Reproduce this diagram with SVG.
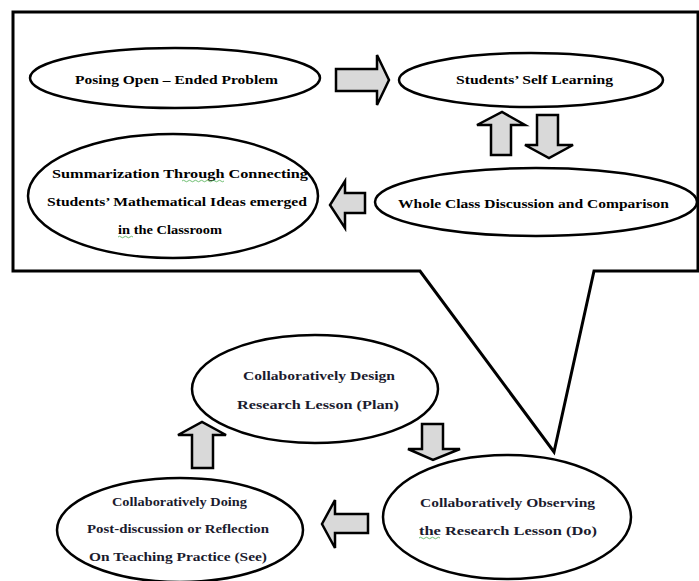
<svg xmlns="http://www.w3.org/2000/svg" width="699" height="581" viewBox="0 0 699 581">
<style>
.node{fill:#fff;stroke:#000;stroke-width:2.5}
.arr{fill:#d9d9d9;stroke:#000;stroke-width:2.5;stroke-linejoin:miter}
.t{font-family:"Liberation Serif","Times New Roman",serif;font-weight:bold;font-size:13px;fill:#000}
.tb{font-family:"Liberation Serif","Times New Roman",serif;font-weight:bold;font-size:13px;fill:#1b1b2e}
.wavy{fill:none;stroke:#4caf50;stroke-width:0.8}
</style>
<rect width="699" height="581" fill="#fff"/>
<g id="callout">
<path d="M13,12 H698 V271 H594 L554,452 L420,271 H13 Z" fill="#fff" stroke="#000" stroke-width="3" stroke-linejoin="miter"/>
</g>
<g id="connectors">
<path class="arr" d="M336,69 H377 V55 L389,80 L377,105 V91 H336 Z"/>
<path class="arr" d="M491,155 V125 H477 L502,112 L525,125 H511 V155 Z"/>
<path class="arr" d="M537,115 H558 V145 H573 L549,158 L525,145 H537 Z"/>
<path class="arr" d="M365,193 V213 H345 V228 L330,205 L345,181 V193 Z"/>
<path class="arr" d="M192,468 V435 H178 L202,422 L226,435 H213 V468 Z"/>
<path class="arr" d="M422,424 H443 V449 H460 L433,460 L408,449 H422 Z"/>
<path class="arr" d="M368,514 V533 H335 V548 L322,524 L335,500 V514 Z"/>
</g>
<g id="n1">
<ellipse class="node" cx="175" cy="78" rx="145" ry="30"/>
<text class="t" x="75" y="84" textLength="203" lengthAdjust="spacingAndGlyphs">Posing Open – Ended Problem</text>
</g>
<g id="n2">
<ellipse class="node" cx="531" cy="80" rx="132" ry="27"/>
<text class="t" x="456" y="84" textLength="157" lengthAdjust="spacingAndGlyphs">Students’ Self Learning</text>
</g>
<g id="n3">
<ellipse class="node" cx="536" cy="202" rx="161" ry="34"/>
<text class="t" x="398" y="208" textLength="271" lengthAdjust="spacingAndGlyphs">Whole Class Discussion and Comparison</text>
</g>
<g id="n4">
<ellipse class="node" cx="173" cy="196" rx="145" ry="62"/>
<text class="t" x="52" y="178" textLength="256" lengthAdjust="spacingAndGlyphs">Summarization Through Connecting</text>
<text class="t" x="47" y="206" textLength="260" lengthAdjust="spacingAndGlyphs">Students’ Mathematical Ideas emerged</text>
<text class="t" x="118" y="234" textLength="104" lengthAdjust="spacingAndGlyphs">in the Classroom</text>
<path class="wavy" d="M182,181 q1.5,-1.5 3,0 t3,0 t3,0 t3,0 t3,0 t3,0 t3,0 t3,0 t3,0 t3,0 t3,0 t3,0 t3,0 t3,0"/>
<path class="wavy" d="M118,237 q1.5,-1.5 3,0 t3,0 t3,0 t3,0 t3,0"/>
</g>
<g id="n5">
<ellipse class="node" cx="315" cy="389" rx="123" ry="54"/>
<text class="tb" x="243" y="380" textLength="152" lengthAdjust="spacingAndGlyphs">Collaboratively Design</text>
<text class="tb" x="237" y="409" textLength="162" lengthAdjust="spacingAndGlyphs">Research Lesson (Plan)</text>
</g>
<g id="n6">
<ellipse class="node" cx="180" cy="530" rx="123" ry="52"/>
<text class="tb" x="112" y="506" textLength="135" lengthAdjust="spacingAndGlyphs">Collaboratively Doing</text>
<text class="tb" x="87" y="533" textLength="182" lengthAdjust="spacingAndGlyphs">Post-discussion or Reflection</text>
<text class="tb" x="89" y="561" textLength="178" lengthAdjust="spacingAndGlyphs">On Teaching Practice (See)</text>
</g>
<g id="n7">
<ellipse class="node" cx="507" cy="517" rx="124" ry="62"/>
<text class="tb" x="420" y="507" textLength="175" lengthAdjust="spacingAndGlyphs">Collaboratively Observing</text>
<text class="tb" x="419" y="535" textLength="178" lengthAdjust="spacingAndGlyphs">the Research Lesson (Do)</text>
<path class="wavy" d="M419,538 q1.5,-1.5 3,0 t3,0 t3,0 t3,0 t3,0 t3,0 t3,0"/>
</g>
</svg>
